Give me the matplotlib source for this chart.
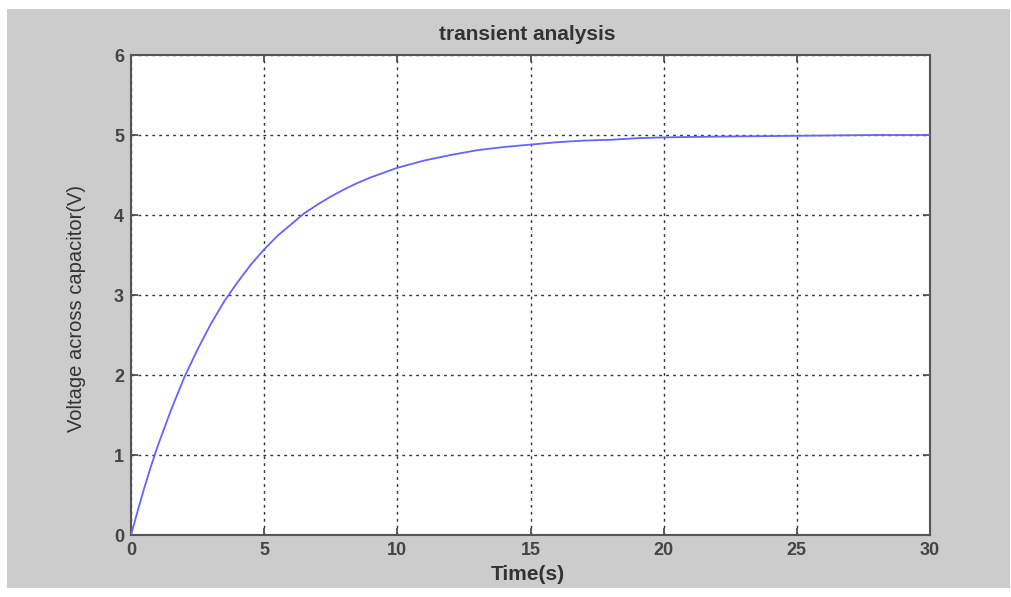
import matplotlib
matplotlib.use("Agg")
import matplotlib.pyplot as plt
from matplotlib.patches import Rectangle

# Data
time_s = [0, 0.25, 0.5, 0.75, 1, 1.5, 2, 2.5, 3, 3.5, 4, 4.5, 5, 5.5, 6, 6.5, 7, 7.5, 8, 8.5,
          9, 9.5, 10, 11, 12, 13, 14, 15, 16, 17, 18, 19, 20, 22, 25, 28, 30]
voltage_v = [0, 0.30, 0.59, 0.86, 1.11, 1.56, 1.97, 2.32, 2.64, 2.92, 3.16, 3.38, 3.57, 3.74,
             3.88, 4.02, 4.13, 4.23, 4.32, 4.40, 4.47, 4.53, 4.59, 4.68, 4.75, 4.81, 4.85,
             4.88, 4.91, 4.93, 4.94, 4.96, 4.97, 4.98, 4.99, 5.00, 5.00]
x_ticks = [0, 5, 10, 15, 20, 25, 30]
y_ticks = [0, 1, 2, 3, 4, 5, 6]
title_text = "transient analysis"
x_label = "Time(s)"
y_label = "Voltage across capacitor(V)"

W, H = 1011, 597
fig = plt.figure(figsize=(W / 100, H / 100), dpi=100, facecolor="white")
bg = Rectangle((7 / W, 1 - 588 / H), (1010 - 7) / W, (588 - 9) / H,
               transform=fig.transFigure, facecolor="#cccccc",
               edgecolor="none", zorder=-10)
fig.add_artist(bg)

ax = fig.add_axes([131 / W, 1 - 535 / H, (930 - 131) / W, (535 - 55) / H])
ax.set_zorder(1)
ax.set_facecolor("white")
ax.plot(time_s, voltage_v, color="#6464ff", lw=1.3, zorder=3)
ax.set_xlim(0, 30)
ax.set_ylim(0, 6)
ax.set_xticks(x_ticks)
ax.set_yticks(y_ticks)
ax.grid(True, color="#333333", linestyle=(0, (2, 3)), linewidth=1.0)
for s in ax.spines.values():
    s.set_color("#555555")
    s.set_linewidth(1.5)
ax.tick_params(direction="in", length=5, width=1.2, color="#444444",
               top=True, right=True, labelsize=13, labelcolor="#444444", pad=5)
for lab in ax.get_xticklabels() + ax.get_yticklabels():
    lab.set_fontfamily(["Liberation Sans", "DejaVu Sans"])
    lab.set_fontweight("bold")

fig.text(527 / W, 1 - 34 / H, title_text, ha="center", va="center", fontsize=15,
         color="#333333", fontweight="bold", family=["Liberation Sans", "DejaVu Sans"])
fig.text(528 / W, 1 - 574 / H, x_label, ha="center", va="center", fontsize=15,
         color="#333333", fontweight="bold", family=["Liberation Sans", "DejaVu Sans"])
fig.text(77 / W, 1 - 308 / H, y_label, ha="center", va="center", rotation=90, fontsize=14.5,
         color="#333333", family=["Liberation Sans Narrow", "Liberation Sans", "DejaVu Sans"])

fig.savefig("out.png", dpi=100, facecolor=fig.get_facecolor())
